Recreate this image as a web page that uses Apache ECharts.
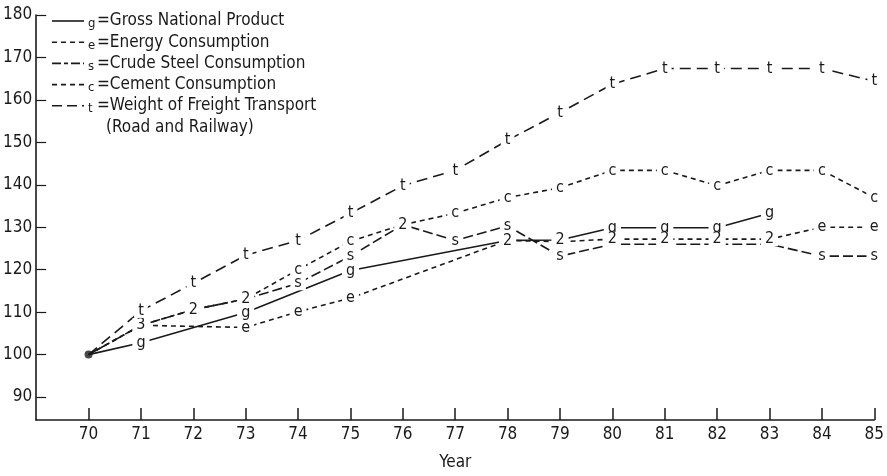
<!DOCTYPE html>
<html>
<head>
<meta charset="utf-8">
<script src="https://cdn.jsdelivr.net/npm/echarts@6/dist/echarts.min.js"></script>
<style>
    html, body { margin: 0; padding: 0; background: #fff; }
    #chart { width: 887px; height: 476px; }
</style>
</head>
<body>
<div id="chart"></div>
<script type="text/javascript">
// index values, 1970 = 100
const gYears = [70, 71, 73, 75, 78, 79, 80, 81, 82, 83];
const gVals = [100, 102.8, 109.9, 119.8, 126.9, 127, 129.9, 129.9, 129.9, 133.3];
const gMarks = ['', 'g', 'g', 'g', '2', '2', 'g', 'g', 'g', 'g'];

const eYears = [70, 71, 73, 74, 75, 78, 79, 80, 81, 82, 83, 84, 85];
const eVals = [100, 106.9, 106.4, 110.1, 113.3, 126.9, 126.6, 127.2, 127.2, 127.2, 127.2, 130, 130];
const eMarks = ['', '', 'e', 'e', 'e', '', '', '2', '2', '2', '2', 'e', 'e'];

const allYears = [70, 71, 72, 73, 74, 75, 76, 77, 78, 79, 80, 81, 82, 83, 84, 85];
const sVals = [100, 106.9, 110.6, 113.1, 116.8, 123.2, 130.6, 126.9, 130.3, 123.2, 126, 126, 126, 126, 123.2, 123.2];
const sMarks = ['', '', '', '', 's', 's', '', 's', 's', 's', '', '', '', '', 's', 's'];

const cVals = [100, 106.9, 110.6, 113.1, 120, 126.7, 130.6, 133.3, 137, 139.3, 143.4, 143.4, 139.8, 143.4, 143.4, 137];
const cMarks = ['', '3', '2', '2', 'c', 'c', '2', 'c', 'c', 'c', 'c', 'c', 'c', 'c', 'c', 'c'];

const tVals = [100, 110.3, 116.8, 123.4, 126.9, 133.3, 139.8, 143.4, 150.5, 157, 163.7, 167.4, 167.4, 167.4, 167.4, 164.4];
const tMarks = ['', 't', 't', 't', 't', 't', 't', 't', 't', 't', 't', 't', 't', 't', 't', 't'];

const xTicks = [70, 71, 72, 73, 74, 75, 76, 77, 78, 79, 80, 81, 82, 83, 84, 85];
const yTicks = [90, 100, 110, 120, 130, 140, 150, 160, 170, 180];

const legendRows = [
    { letter: 'g', text: '=Gross National Product', dash: 'solid' },
    { letter: 'e', text: '=Energy Consumption', dash: [5, 4] },
    { letter: 's', text: '=Crude Steel Consumption', dash: [9, 3, 4, 3] },
    { letter: 'c', text: '=Cement Consumption', dash: [5, 4] },
    { letter: 't', text: '=Weight of Freight Transport', dash: [10, 5] }
];

const FONT = '"DejaVu Sans Condensed", sans-serif';
const INK = '#1a1a1a';

function points (years, vals, marks) {
    return years.map((x, i) => ({
        value: [x, vals[i]],
        label: { show: marks[i] !== '', formatter: marks[i] }
    }));
}

function lineSeries (name, data, dash, z) {
    return {
        name: name,
        type: 'line',
        data: data,
        symbol: 'circle',
        symbolSize: 0.5,
        itemStyle: { color: 'rgba(255,255,255,0)' },
        lineStyle: { color: INK, width: 1.6, type: dash },
        label: {
            position: 'inside',
            color: INK,
            fontFamily: FONT,
            fontSize: 16,
            lineHeight: 14,
            backgroundColor: '#fff',
            padding: [0, 4]
        },
        emphasis: { disabled: true },
        animation: false,
        z: z
    };
}

let legendGraphics = [];
legendRows.forEach((row, i) => {
    let y = 21 + i * 21.2;
    legendGraphics.push({
        type: 'line',
        shape: { x1: 52, y1: y, x2: 84, y2: y },
        style: { stroke: INK, lineWidth: 1.6, lineDash: row.dash === 'solid' ? null : row.dash }
    });
    legendGraphics.push({
        type: 'text', x: 88, y: y + 3,
        style: { text: row.letter, font: '13px ' + FONT, fill: INK, verticalAlign: 'middle' }
    });
    legendGraphics.push({
        type: 'text', x: 97, y: y,
        style: { text: row.text, font: '17px ' + FONT, fill: INK, verticalAlign: 'middle' }
    });
});
legendGraphics.push({
    type: 'text', x: 106, y: 128,
    style: { text: '(Road and Railway)', font: '17px ' + FONT, fill: INK, verticalAlign: 'middle' }
});

let option = {
    backgroundColor: '#fff',
    animation: false,
    grid: { left: 34, right: 10, top: 15, bottom: 46 },
    xAxis: {
        type: 'value',
        min: 69,
        max: 85,
        name: 'Year',
        nameLocation: 'middle',
        nameGap: 34,
        nameTextStyle: { color: INK, fontFamily: FONT, fontSize: 17 },
        splitLine: { show: false },
        axisLine: { lineStyle: { color: INK, width: 1.6 } },
        axisTick: { show: true, inside: true, length: 12, customValues: xTicks, lineStyle: { color: INK, width: 1.5 } },
        axisLabel: { customValues: xTicks, color: INK, fontFamily: FONT, fontSize: 17, margin: 6 }
    },
    yAxis: {
        type: 'value',
        min: 84.6,
        max: 180,
        splitLine: { show: false },
        axisLine: { show: true, lineStyle: { color: INK, width: 1.6 } },
        axisTick: { show: true, inside: true, length: 10, customValues: yTicks, lineStyle: { color: INK, width: 1.2 } },
        axisLabel: { customValues: yTicks, color: INK, fontFamily: FONT, fontSize: 17, margin: 4 }
    },
    graphic: legendGraphics,
    series: [
        lineSeries('g', points(gYears, gVals, gMarks), 'solid', 3),
        lineSeries('e', points(eYears, eVals, eMarks), [5, 4], 3),
        lineSeries('s', points(allYears, sVals, sMarks), [10, 4], 3),
        lineSeries('c', points(allYears, cVals, cMarks), [5, 4], 4),
        lineSeries('t', points(allYears, tVals, tMarks), [11, 6], 4),
        {
            type: 'scatter',
            data: [[70, 100]],
            symbolSize: 8,
            itemStyle: { color: INK },
            z: 5
        }
    ]
};

let mainChart = echarts.init(document.getElementById('chart'));
mainChart.setOption(option);
</script>
</body>
</html>
